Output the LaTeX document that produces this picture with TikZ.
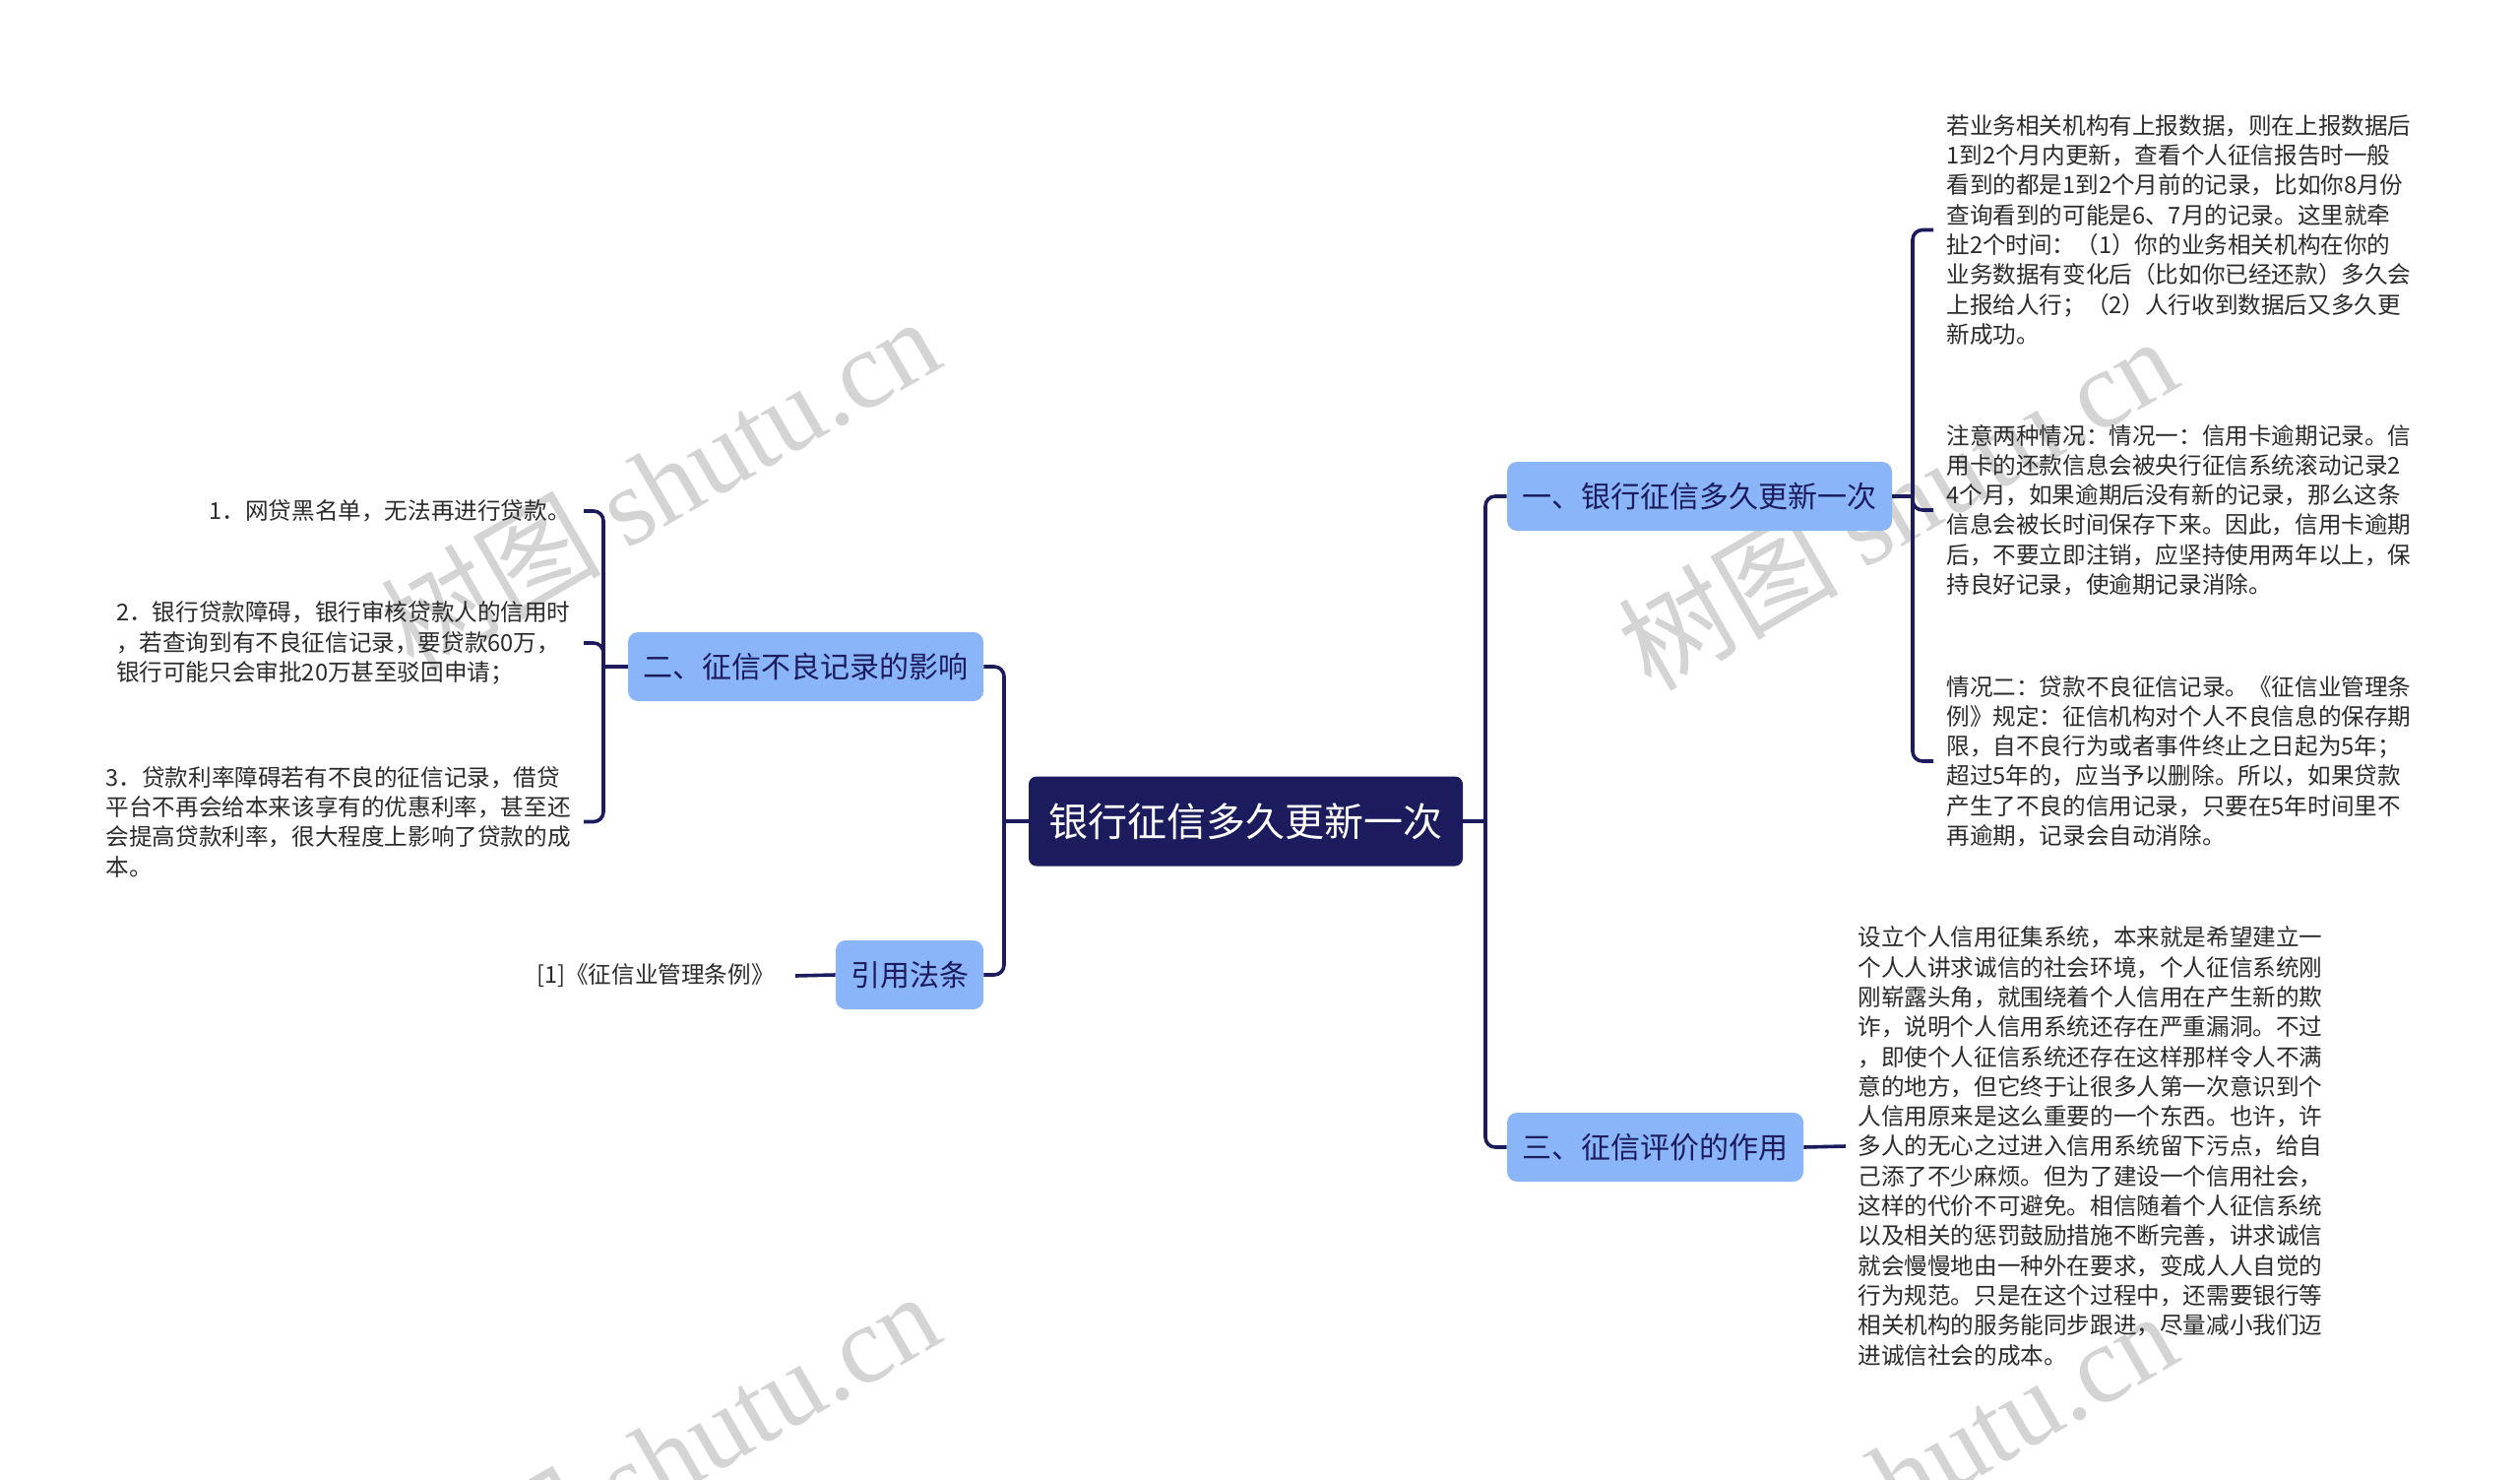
\documentclass[tikz,border=0pt]{standalone}
\usepackage{fontspec}
\setmainfont{Noto Sans CJK SC}
\newfontfamily\wmlatin{Liberation Serif}
\definecolor{navy}{HTML}{1B1B5E}
\definecolor{branchblue}{HTML}{8AB6F9}
\definecolor{leaftext}{HTML}{2B2B2B}
\definecolor{wmgray}{HTML}{D4D4D4}
\begin{document}
\begin{tikzpicture}[x=0.5pt,y=-0.5pt,
  rootbox/.style={fill=navy, text=white, rounded corners=4pt, minimum width=220.5pt, minimum height=45.5pt, inner sep=0pt, font=\fontsize{20}{24}\selectfont},
  branchbox/.style={fill=branchblue, text=navy, rounded corners=5pt, minimum height=35pt, inner sep=0pt, font=\fontsize{15}{18}\selectfont},
  leaf/.style={inner ysep=0pt, inner xsep=6.5pt, align=left, text=leaftext, font=\fontsize{11.8}{15.15}\selectfont},
  conn/.style={draw=navy, line width=1.8pt},
  rc/.style={rounded corners=5pt},
  wm/.style={text=wmgray, rotate=30, inner sep=0pt, font=\fontsize{56}{60}\selectfont}
]
\useasboundingbox (0,0) rectangle (2560,1503);
\fill[white] (0,0) rectangle (2560,1503);

% watermarks
\begin{scope}
\clip (0,0) rectangle (2560,1503);
\node[wm] (w1) at (670,490) {树图 {\wmlatin shutu.cn}};
\node[wm] (w2) at (1927,510) {树图 {\wmlatin shutu.cn}};
\node[wm] (w3) at (670,1480) {树图 {\wmlatin shutu.cn}};
\node[wm] (w4) at (1927,1500) {树图 {\wmlatin shutu.cn}};
\end{scope}

% main nodes
\node[rootbox] (root) at (1265.5,834) {银行征信多久更新一次};
\node[branchbox, minimum width=195.5pt] (b1) at (1726.5,504) {一、银行征信多久更新一次};
\node[branchbox, minimum width=150.5pt] (b3) at (1681.5,1165) {三、征信评价的作用};
\node[branchbox, minimum width=180.5pt] (b2) at (818.5,677) {二、征信不良记录的影响};
\node[branchbox, minimum width=75pt] (b4) at (924,990) {引用法条};

% junction coordinates
\coordinate (rj) at (1509,834);
\coordinate (lj) at (1020,834);
\coordinate (j1) at (1943,504);
\coordinate (j2) at (613,677);

% right leaves
\node[leaf, anchor=west] (r1) at (1964,233.5) {若业务相关机构有上报数据，则在上报数据后\\1到2个月内更新，查看个人征信报告时一般\\看到的都是1到2个月前的记录，比如你8月份\\查询看到的可能是6、7月的记录。这里就牵\\扯2个时间：（1）你的业务相关机构在你的\\业务数据有变化后（比如你已经还款）多久会\\上报给人行；（2）人行收到数据后又多久更\\新成功。};
\node[leaf, anchor=west] (r2) at (1964,518) {注意两种情况：情况一：信用卡逾期记录。信\\用卡的还款信息会被央行征信系统滚动记录2\\4个月，如果逾期后没有新的记录，那么这条\\信息会被长时间保存下来。因此，信用卡逾期\\后，不要立即注销，应坚持使用两年以上，保\\持良好记录，使逾期记录消除。};
\node[leaf, anchor=west] (r3) at (1964,773) {情况二：贷款不良征信记录。《征信业管理条\\例》规定：征信机构对个人不良信息的保存期\\限，自不良行为或者事件终止之日起为5年；\\超过5年的，应当予以删除。所以，如果贷款\\产生了不良的信用记录，只要在5年时间里不\\再逾期，记录会自动消除。};
\node[leaf, anchor=west, inner xsep=6pt] (r4) at (1875,1164) {设立个人信用征集系统，本来就是希望建立一\\个人人讲求诚信的社会环境，个人征信系统刚\\刚崭露头角，就围绕着个人信用在产生新的欺\\诈，说明个人信用系统还存在严重漏洞。不过\\，即使个人征信系统还存在这样那样令人不满\\意的地方，但它终于让很多人第一次意识到个\\人信用原来是这么重要的一个东西。也许，许\\多人的无心之过进入信用系统留下污点，给自\\己添了不少麻烦。但为了建设一个信用社会，\\这样的代价不可避免。相信随着个人征信系统\\以及相关的惩罚鼓励措施不断完善，讲求诚信\\就会慢慢地由一种外在要求，变成人人自觉的\\行为规范。只是在这个过程中，还需要银行等\\相关机构的服务能同步跟进，尽量减小我们迈\\进诚信社会的成本。};

% left leaves
\node[leaf, anchor=east] (l1) at (593,519) {1．网贷黑名单，无法再进行贷款。};
\node[leaf, anchor=east] (l2) at (593,653) {2．银行贷款障碍，银行审核贷款人的信用时\\，若查询到有不良征信记录，要贷款60万，\\银行可能只会审批20万甚至驳回申请；};
\node[leaf, anchor=east] (l3) at (593,834.5) {3．贷款利率障碍若有不良的征信记录，借贷\\平台不再会给本来该享有的优惠利率，甚至还\\会提高贷款利率，很大程度上影响了贷款的成\\本。};
\node[leaf, anchor=east, inner xsep=10.5pt] (cite) at (808,991) {[1]《征信业管理条例》};

% connectors: root trunks
\draw[conn] (root.east) -- (rj);
\draw[conn, rc] (b1.west) -- (b1.west -| rj) -- (b3.west -| rj) -- (b3.west);
\draw[conn] (root.west) -- (lj);
\draw[conn, rc] (b2.east) -- (b2.east -| lj) -- (b4.east -| lj) -- (b4.east);

% branch 1 children
\draw[conn] (b1.east) -- (j1);
\draw[conn, rc] (r1.west) -- (r1.west -| j1) -- (r3.west -| j1) -- (r3.west);
\draw[conn, rc] (j1) -- (j1 |- r2.west) -- (r2.west);

% branch 3 child
\draw[conn] (b3.east) -- (r4.west);

% branch 2 children
\draw[conn] (b2.west) -- (j2);
\draw[conn, rc] (l1.east) -- (l1.east -| j2) -- (l3.east -| j2) -- (l3.east);
\draw[conn, rc] (j2) -- (j2 |- l2.east) -- (l2.east);

% branch 4 child
\draw[conn] (b4.west) -- (cite.east);
\end{tikzpicture}
\end{document}
